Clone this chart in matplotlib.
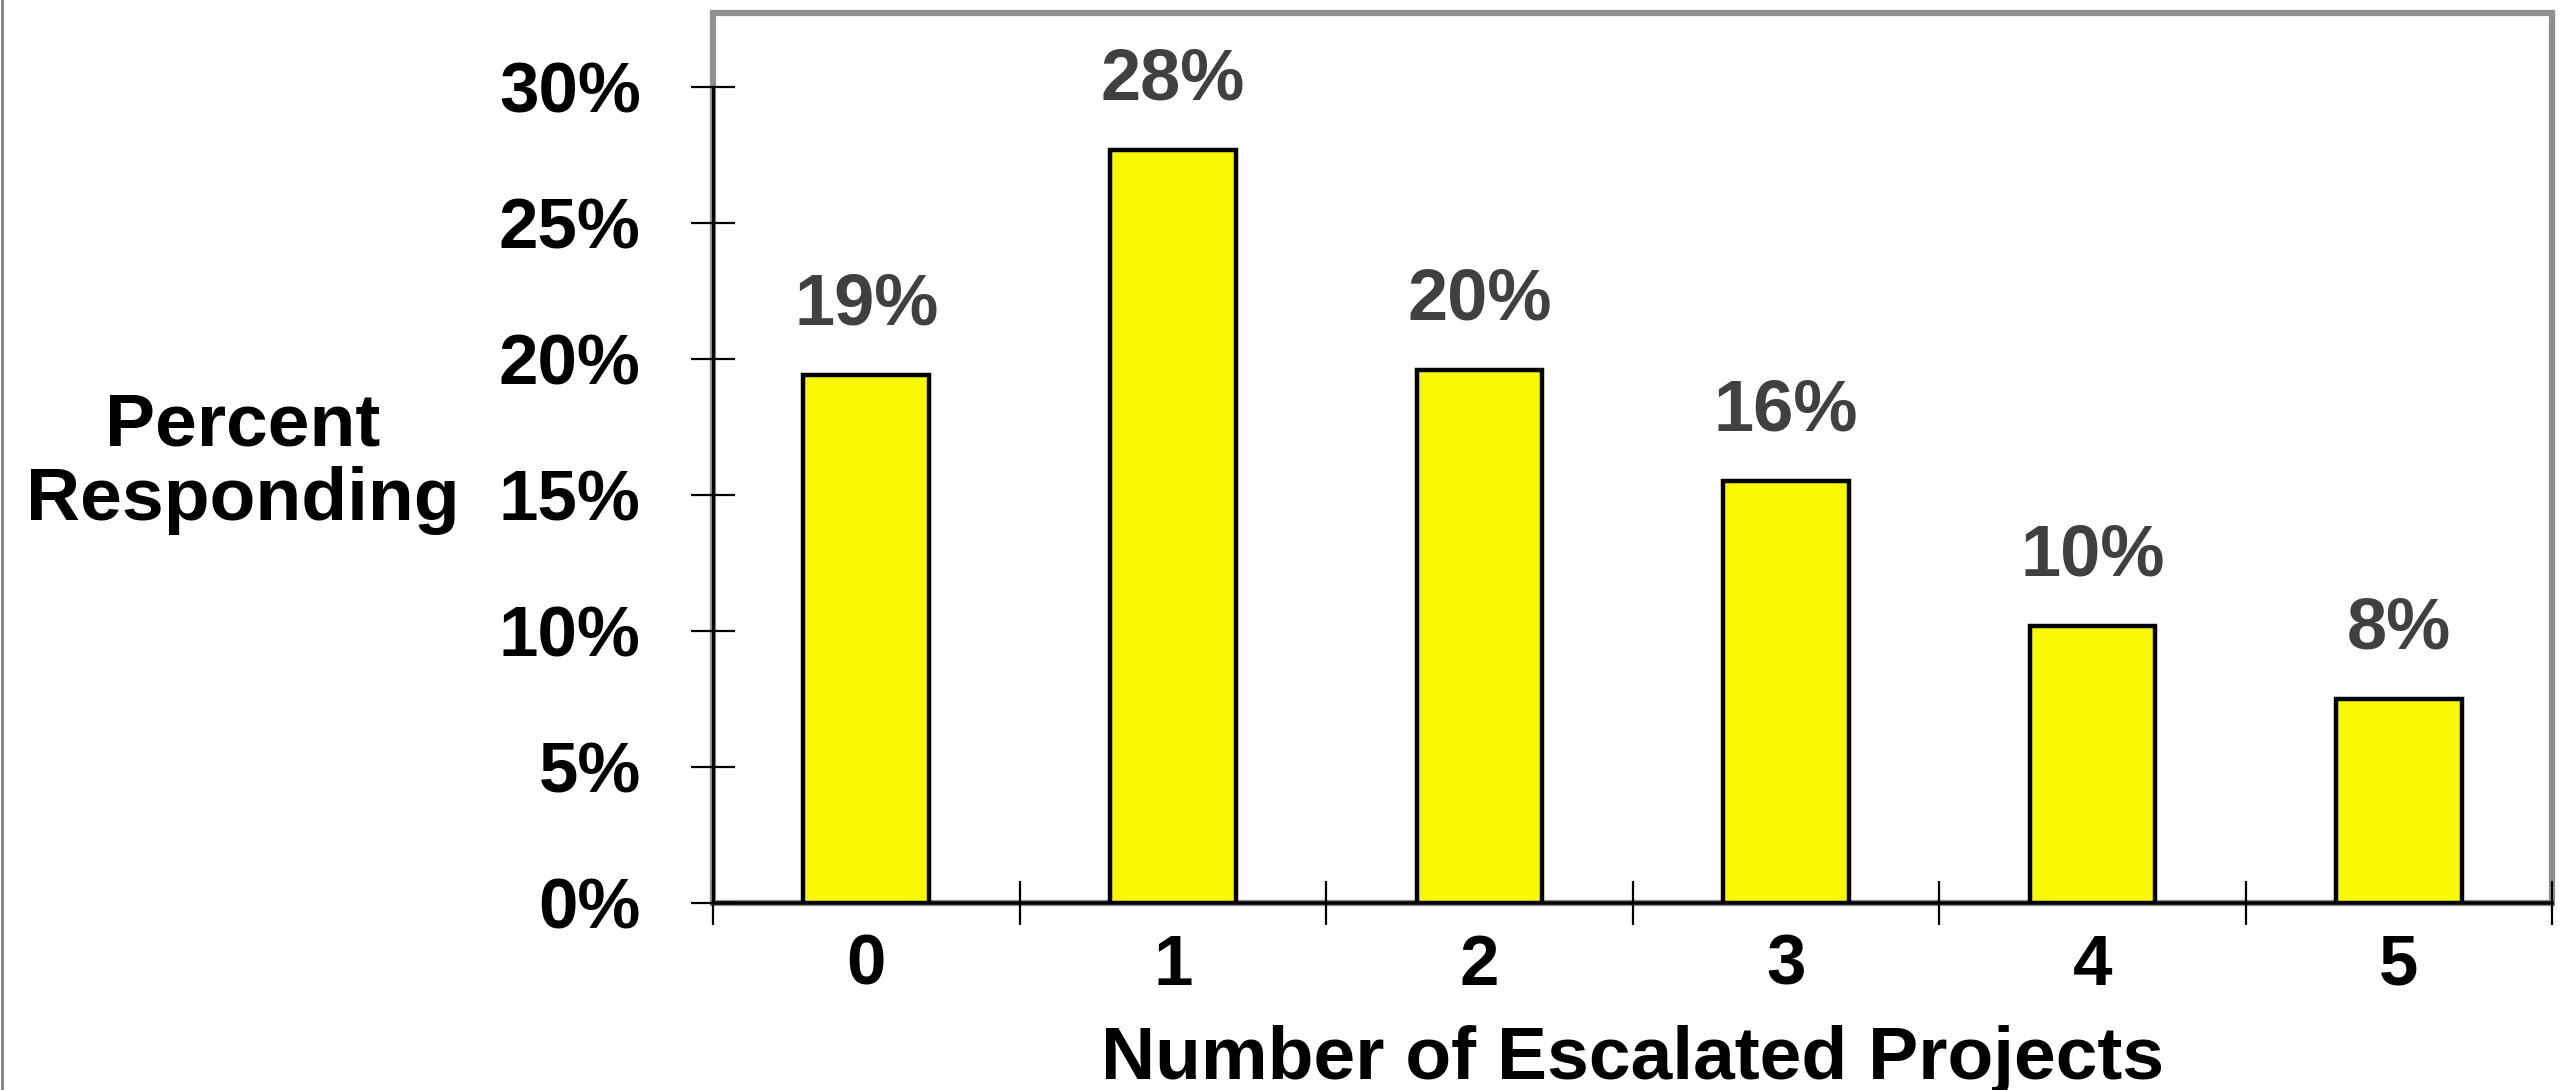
import matplotlib.pyplot as plt
from matplotlib.patches import Rectangle
from matplotlib.lines import Line2D

# ---- datos ----
categories = ["0", "1", "2", "3", "4", "5"]
percent = [19.4, 27.7, 19.6, 15.5, 10.2, 7.5]
yticks = [0, 5, 10, 15, 20, 25, 30]

plt.rcParams['font.family'] = ['Liberation Sans', 'DejaVu Sans']
plt.rcParams['font.weight'] = 'bold'

fig = plt.figure(figsize=(25.65, 10.9), dpi=100)
ax = fig.add_axes([0.278, 0.1716, 0.717, 0.8164])

x = list(range(len(categories)))
ax.bar(x, percent, width=0.41, color='#F8F800', edgecolor='black', linewidth=3.2, zorder=3)

for xi, v in zip(x, percent):
    ax.annotate(f"{v:.0f}%", (xi, v), xytext=(0, 50), textcoords='offset points',
                ha='center', va='center', fontsize=52, fontweight='bold', color='#404040')

ax.set_xlim(-0.5, len(categories) - 0.5)
ax.set_ylim(0, 32.72)

# ticks: etiquetas centradas, marcas en los bordes de cada categoría
ax.set_xticks(x)
ax.set_xticklabels(categories)
ax.set_xticks([i - 0.5 for i in range(len(categories) + 1)], minor=True)
ax.tick_params(axis='x', which='major', length=0, pad=22, labelsize=51)
ax.tick_params(axis='x', which='minor', direction='inout', length=32, width=1.6, color='black')

ax.set_yticks(yticks)
ax.set_yticklabels([f"{t}%" for t in yticks])
ax.tick_params(axis='y', direction='inout', length=32, width=1.6, pad=36, labelsize=51)

# marco gris + ejes negros
for s in ['top', 'right']:
    ax.spines[s].set_visible(False)
ax.add_patch(Rectangle((0, 0), 1, 1, transform=ax.transAxes, fill=False,
                       edgecolor='#909090', linewidth=4.5, clip_on=False, zorder=1))
ax.spines['left'].set_bounds(0, 30)
ax.spines['left'].set_linewidth(2.2)
ax.spines['bottom'].set_linewidth(2.6)
ax.spines['left'].set_zorder(5)
ax.spines['bottom'].set_zorder(5)

ax.set_xlabel("Number of Escalated Projects", fontsize=54, fontweight='bold', labelpad=18)
fig.text(0.0945, 0.575, "Percent\nResponding", ha='center', va='center', fontsize=54,
         fontweight='bold', linespacing=1.12, multialignment='center')

# línea gris en el borde izquierdo
fig.add_artist(Line2D([0.0006, 0.0006], [0, 1], transform=fig.transFigure,
                      color='#808080', linewidth=2))

fig.savefig("out.png", dpi=100)
